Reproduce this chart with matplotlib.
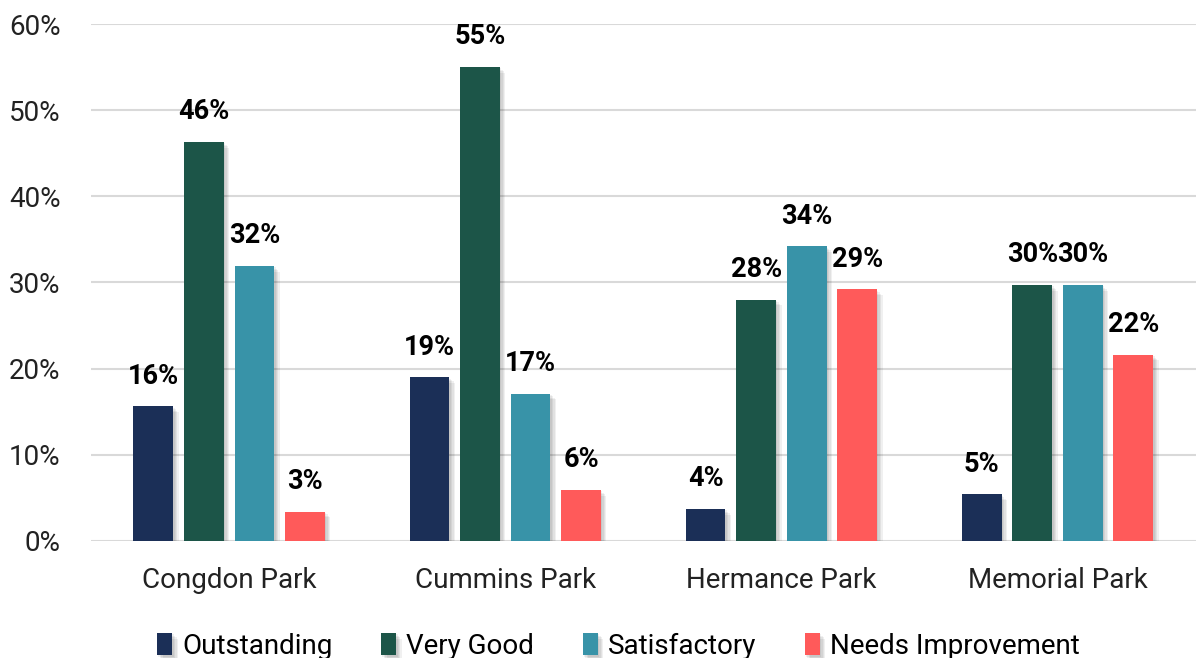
import matplotlib.pyplot as plt
import matplotlib.patheffects as pe
import numpy as np

parks = ['Congdon Park', 'Cummins Park', 'Hermance Park', 'Memorial Park']
ratings = ['Outstanding', 'Very Good', 'Satisfactory', 'Needs Improvement']
outstanding = [15.6, 19.0, 3.7, 5.4]
very_good = [46.3, 55.0, 28.0, 29.7]
satisfactory = [31.9, 17.1, 34.2, 29.7]
needs_improvement = [3.4, 5.9, 29.2, 21.6]
colors = ['#1b2f57', '#1c5548', '#3893a8', '#ff5a5a']

plt.rcParams['font.family'] = ['Roboto', 'DejaVu Sans']

fig = plt.figure(figsize=(11.98, 6.58), dpi=100)
ax = fig.add_axes([0.076, 0.178, 0.922, 0.7855])

series = [outstanding, very_good, satisfactory, needs_improvement]
x = np.arange(len(parks))
pitch = 0.183
width = 0.144
# soft drop shadow built from a few faint offset copies
shadow = [pe.SimplePatchShadow(offset=(k, -k), shadow_rgbFace='#000000', alpha=0.06) for k in (1, 2, 3, 4)]
shadow.append(pe.Normal())

for i, (vals, name, col) in enumerate(zip(series, ratings, colors)):
    pos = x + (i - 1.5) * pitch
    bars = ax.bar(pos, vals, width, color=col, label=name, zorder=3)
    for b in bars:
        b.set_path_effects(shadow)
    for p, v in zip(pos, vals):
        ax.annotate(f'{round(v):.0f}%', (p, v), xytext=(0, 12), textcoords='offset points',
                    ha='center', va='bottom', fontsize=19.5, fontweight='bold', color='black')

ax.set_xlim(-0.5, 3.5)
ax.set_ylim(0, 60)
ax.set_yticks(range(0, 61, 10))
ax.set_yticklabels([f'{t}%' for t in range(0, 61, 10)])
ax.set_xticks(x)
ax.set_xticklabels(parks)
ax.tick_params(axis='y', length=0, labelsize=20, pad=22, colors='#222222')
ax.tick_params(axis='x', length=0, labelsize=20, pad=19, colors='#222222')
ax.grid(axis='y', color='#d9d9d9', linewidth=1.5, zorder=0)
for s in ax.spines.values():
    s.set_visible(False)

handles, labels = ax.get_legend_handles_labels()
fig.legend(handles, labels, loc='lower center', bbox_to_anchor=(0.516, -0.028), ncol=4, frameon=False,
           fontsize=20, handlelength=0.55, handleheight=0.85, handletextpad=0.35, columnspacing=1.75,
           borderpad=0.1)

fig.savefig('out.png', dpi=100)
